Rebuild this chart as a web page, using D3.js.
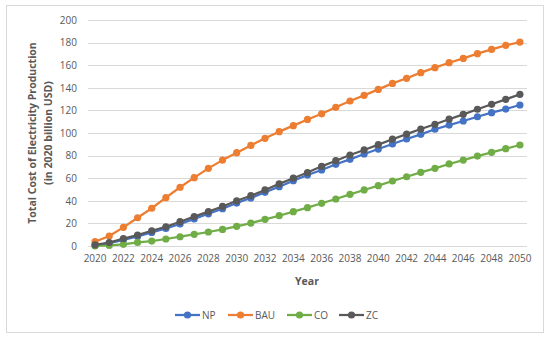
<!DOCTYPE html>
<html><head><meta charset="utf-8">
<script src="https://cdn.jsdelivr.net/npm/d3@7/dist/d3.min.js"></script>
<style>
body{margin:0;background:#fff;}
text{font-family:"Open Sans","Noto Sans",sans-serif;fill:#595959;}
</style></head>
<body><svg id="c" width="550" height="339"></svg>
<script>
const years = d3.range(2020, 2051);
const xTicks = d3.range(2020, 2051, 2);
const yTicks = [0,20,40,60,80,100,120,140,160,180,200];
const NP  = [0.5,2.5,5.5,8.5,12,15.5,19.5,24,28.5,33,38,42.5,47.5,52.5,57.8,62.8,67.3,72.3,76.7,81.4,85.8,90.3,94.7,98.8,103.3,107,110.6,114.4,118,121.2,124.8];
const BAU = [3.8,8.8,16.5,25,33.4,42.8,52,60.5,68.7,76,82.6,89,95.3,101.2,106.5,112,117,122.7,128.3,133.3,138.6,143.9,148.4,153.4,157.8,162.2,166,170.2,174,177.6,180.5];
const CO  = [0,0.5,1.5,3.2,4.4,6.2,8.2,10.3,12.4,14.7,17.4,20.3,23.6,26.8,30.4,33.9,37.8,41.6,45.7,49.6,53.4,57.5,61.3,65.2,68.7,72.6,76,79.6,82.9,86.1,89.4];
const ZC  = [1,3,6.6,9.7,13.5,17,21.5,26,30.4,35,40,44.5,49.6,55,60,65,70.5,75.5,80.5,85,89.7,94.5,99,103.5,107.7,112.2,116.5,121,125.4,129.8,134.2];
const seriesNames = ["NP","BAU","CO","ZC"];
const seriesData = [NP,BAU,CO,ZC];
const colors = ["#4472C4","#ED7D31","#70AD47","#595959"];

const svg = d3.select("#c");
svg.append("rect").attr("x",6.5).attr("y",5.5).attr("width",537).attr("height",327)
  .attr("fill","#fff").attr("stroke","#d9d9d9").attr("stroke-width",1);

const L=88, R=527, T=20, B=246;
const x = d3.scaleBand().domain(years).range([L,R]);
const xc = d => x(d) + x.bandwidth()/2;
const y = d3.scaleLinear().domain([0,200]).range([B,T]);

// gridlines
svg.append("g").selectAll("line").data(yTicks).join("line")
  .attr("x1",L).attr("x2",R).attr("y1",d=>Math.round(y(d))+0.5).attr("y2",d=>Math.round(y(d))+0.5)
  .attr("stroke","#d9d9d9").attr("stroke-width",1);

// y axis labels
const ya = svg.append("g").attr("transform",`translate(${L-11},0)`)
  .call(d3.axisLeft(y).tickValues(yTicks).tickSize(0).tickPadding(0));
ya.select(".domain").remove();
ya.selectAll("text").attr("font-size","10px").attr("fill","#595959").style("font-family",'"Open Sans",sans-serif');

// x axis labels
const xa = svg.append("g").attr("transform",`translate(0,${B})`)
  .call(d3.axisBottom(x).tickValues(xTicks).tickSize(0).tickPadding(9));
xa.select(".domain").remove();
xa.selectAll("text").attr("font-size","10px").attr("fill","#595959").style("font-family",'"Open Sans",sans-serif');

// titles
svg.append("text").attr("x",307).attr("y",285).attr("text-anchor","middle")
  .attr("font-size","10.5px").attr("font-weight","bold").text("Year");
const yt = svg.append("text").attr("transform","translate(0,133) rotate(-90)")
  .attr("text-anchor","middle").attr("font-size","10.5px").attr("font-weight","bold");
yt.append("tspan").attr("x",0).attr("y",36).text("Total Cost of Electricity Production");
yt.append("tspan").attr("x",0).attr("y",52).text("(in 2020 billion USD)");

// lines
const line = d3.line().x((d,i)=>xc(years[i])).y(d=>y(d));
seriesData.forEach((s,k)=>{
  const g = svg.append("g");
  g.append("path").datum(s).attr("d",line).attr("fill","none")
    .attr("stroke",colors[k]).attr("stroke-width",2.25).attr("stroke-linejoin","round");
  g.selectAll("circle").data(s).join("circle")
    .attr("cx",(d,i)=>xc(years[i])).attr("cy",d=>y(d)).attr("r",3.6).attr("fill",colors[k]);
});

// legend
const lx = [175,228,287,339];
seriesNames.forEach((n,k)=>{
  const g = svg.append("g").attr("transform",`translate(${lx[k]},315)`);
  g.append("line").attr("x1",0).attr("x2",25).attr("stroke",colors[k]).attr("stroke-width",2.25);
  g.append("circle").attr("cx",12.5).attr("r",3.6).attr("fill",colors[k]);
  g.append("text").attr("x",27).attr("y",3.6).attr("font-size","10px").text(n);
});
</script></body></html>
